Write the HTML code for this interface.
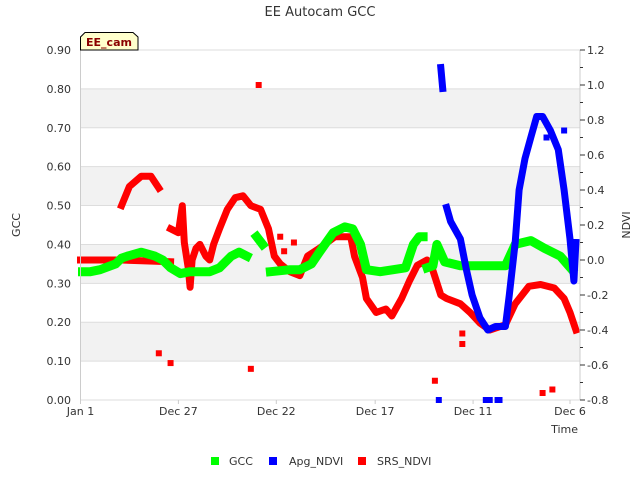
<!DOCTYPE html>
<html><head><meta charset="utf-8"><style>
body{margin:0;background:#fff;font-family:"Liberation Sans","DejaVu Sans",sans-serif;}
svg text{font-family:"DejaVu Sans","Liberation Sans",sans-serif;}
</style></head><body>
<svg id="chart" width="640" height="480" viewBox="0 0 640 480" xmlns="http://www.w3.org/2000/svg">
<text x="320" y="16" text-anchor="middle" font-size="13" fill="#333">EE Autocam GCC</text>
<g id="bands"></g><g id="grid"></g><g id="series"></g><g id="axes"></g>
<text x="20" y="225" font-size="11" fill="#333" text-anchor="middle" transform="rotate(-90 20 225)">GCC</text>
<text x="630" y="225" font-size="11" fill="#333" text-anchor="middle" transform="rotate(-90 630 225)">NDVI</text>
<text x="578" y="433" font-size="11" fill="#333" text-anchor="end">Time</text>
<g>
<path d="M80.5,50 L80.5,37 L85,32.5 L133,32.5 L138,37 L138,50 Z" fill="#ffffcc" stroke="#000" stroke-width="1"/>
<text x="109" y="46" text-anchor="middle" font-size="11" font-weight="bold" fill="#8b0000">EE_cam</text>
</g>
<g>
<g><rect x="211" y="457" width="8" height="8" fill="#00ff00"/><text x="229" y="465" font-size="11" fill="#333">GCC</text></g>
<g><rect x="269" y="457" width="8" height="8" fill="#0000ff"/><text x="289" y="465" font-size="11" fill="#333">Apg_NDVI</text></g>
<g><rect x="358" y="457" width="8" height="8" fill="#ff0000"/><text x="377" y="465" font-size="11" fill="#333">SRS_NDVI</text></g>
</g>
</svg>
<script>
const xTickLabels=["Jan 1","Dec 27","Dec 22","Dec 17","Dec 11","Dec 6"];
const xTickDays=[0,5,10,15.05,20.05,25];
const leftTicks=[0,0.1,0.2,0.3,0.4,0.5,0.6,0.7,0.8,0.9];
const rightTicks=[-0.8,-0.6,-0.4,-0.2,0,0.2,0.4,0.6,0.8,1.0,1.2];
const gccDays=[0.1,0.5,1.0,1.8,2.1,2.4,3.1,3.8,4.2,4.6,5.1,5.6,6.6,7.1,7.7,8.1,8.5,null,9.0,9.3,null,9.7,10.7,11.2,11.8,12.2,12.9,13.5,13.9,14.3,14.6,15.3,16.6,17.0,17.3,17.5,null,17.7,18.0,18.2,18.6,19.4,20.4,21.7,22.2,23.0,23.7,24.5,25.1];
const gccValues=[0.33,0.33,0.335,0.35,0.365,0.37,0.38,0.37,0.36,0.34,0.325,0.33,0.33,0.34,0.37,0.38,0.37,null,0.42,0.40,null,0.33,0.335,0.335,0.35,0.38,0.43,0.445,0.44,0.40,0.335,0.33,0.34,0.40,0.42,0.42,null,0.34,0.345,0.40,0.355,0.345,0.345,0.345,0.40,0.41,0.39,0.37,0.335];
const srsDays=[0,2.1,4.6,null,2.1,2.5,3.1,3.6,4.0,null,4.6,5.0,5.2,5.3,5.5,5.6,5.7,5.9,6.1,6.4,6.6,6.8,7.1,7.5,7.9,8.3,8.7,9.2,9.6,9.9,10.2,10.7,11.2,11.6,12.2,13.0,13.8,14.0,14.4,14.6,15.1,15.6,15.9,16.4,16.8,17.2,17.7,18.0,18.4,18.7,19.4,19.9,20.4,20.9,21.7,22.2,22.9,23.5,24.2,24.7,25.0,25.3];
const srsValues=[0,0,-0.01,null,0.311,0.42,0.478,0.478,0.411,null,0.178,0.156,0.31,0.1,-0.044,-0.156,0.0,0.067,0.089,0.022,0.0,0.089,0.178,0.289,0.356,0.367,0.311,0.289,0.178,0.022,-0.022,-0.067,-0.089,0.022,0.067,0.133,0.133,0.02,-0.1,-0.22,-0.3,-0.28,-0.32,-0.22,-0.12,-0.03,0.0,-0.06,-0.2,-0.22,-0.25,-0.3,-0.36,-0.4,-0.37,-0.25,-0.15,-0.14,-0.16,-0.22,-0.3,-0.4];
const srsOutDays=[4.0,4.6,9.1,8.7,18.1,19.5,19.5,23.6,24.1,10.2,10.4,10.9,11.0];
const srsOutValues=[-0.533,-0.589,1.0,-0.622,-0.69,-0.42,-0.48,-0.76,-0.74,0.133,0.05,0.1,-0.07];
const apgDays=[18.4,18.5,null,18.7,18.9,19.4,19.7,20.0,20.4,20.8,21.2,21.7,21.9,22.2,22.4,22.7,23.0,23.3,23.6,24.0,24.4,24.7,25.0,25.2,25.3];
const apgValues=[1.1,0.98,null,0.3,0.22,0.12,-0.05,-0.2,-0.33,-0.4,-0.38,-0.38,-0.2,0.1,0.4,0.58,0.7,0.82,0.82,0.74,0.63,0.4,0.12,-0.12,0.1];
const apgOutDays=[18.3,20.7,20.9,21.3,21.4,23.8,24.7];
const apgOutValues=[-0.8,-0.8,-0.8,-0.8,-0.8,0.7,0.74];

const NS="http://www.w3.org/2000/svg";
const X0=80.5,X1=580,Y0=400,Y1=50;
const x=d=>X0+d*(570-X0)/25;
const yL=v=>Y0-v*(Y0-Y1)/0.9;
const yR=v=>Y0-(v+0.8)*(Y0-Y1)/2.0;
function mk(tag,attrs,parent){const e=document.createElementNS(NS,tag);for(const k in attrs)e.setAttribute(k,attrs[k]);parent.appendChild(e);return e;}
const bands=document.getElementById('bands'),grid=document.getElementById('grid'),ser=document.getElementById('series'),axes=document.getElementById('axes');
mk('rect',{x:X0,y:Y1,width:X1-X0,height:Y0-Y1,fill:'#fff'},bands);
for(let i=1;i<9;i+=2){const r=mk('rect',{x:X0,y:yL((i+1)/10),width:X1-X0,height:yL(i/10)-yL((i+1)/10),fill:'#f2f2f2'},bands);

}
leftTicks.forEach(v=>{mk('line',{x1:X0,x2:X1,y1:yL(v),y2:yL(v),stroke:'#ddd','stroke-width':1},grid);
const t=mk('text',{x:71,y:yL(v)+4,'text-anchor':'end','font-size':11,fill:'#333'},axes);t.textContent=v.toFixed(2);

});
mk('line',{x1:X0,x2:X0,y1:Y1,y2:Y0,stroke:'#ccc'},axes);
mk('line',{x1:X1,x2:X1,y1:Y1,y2:Y0,stroke:'#ccc'},axes);
rightTicks.forEach((v,i)=>{mk('line',{x1:X1,x2:X1+5,y1:yR(v),y2:yR(v),stroke:'#333'},axes);
if(i<rightTicks.length-1)mk('line',{x1:X1,x2:X1+3,y1:yR(v+0.1),y2:yR(v+0.1),stroke:'#333'},axes);
const t=mk('text',{x:587,y:yR(v)+4,'font-size':11,fill:'#333'},axes);t.textContent=(Math.abs(v)<1e-9?0:v).toFixed(1);

});
xTickLabels.forEach((l,i)=>{const px=x(xTickDays[i]);mk('line',{x1:px,x2:px,y1:Y0,y2:Y0+4,stroke:'#ccc'},axes);
const t=mk('text',{x:px,y:415,'text-anchor':'middle','font-size':11,fill:'#333'},axes);t.textContent=l;

});
function path(days,vals,yf,color,w,name){let d='',pen=false;for(let i=0;i<days.length;i++){if(days[i]==null){pen=false;continue;}d+=(pen?'L':'M')+x(days[i]).toFixed(1)+','+yf(vals[i]).toFixed(1);pen=true;}
const p=mk('path',{d:d,fill:'none',stroke:color,'stroke-width':w,'stroke-linejoin':'round','stroke-linecap':'square'},ser);

}
function pts(days,vals,yf,color,name){days.forEach((dd,i)=>{const r=mk('rect',{x:x(dd)-3,y:yf(vals[i])-3,width:6,height:6,fill:color},ser);

});}
path(srsDays,srsValues,yR,'#ff0000',7,'srs-ndvi-series');
pts(srsOutDays,srsOutValues,yR,'#ff0000','srs-ndvi-outlier');
path(gccDays,gccValues,yL,'#00ff00',9,'gcc-series');
path(apgDays,apgValues,yR,'#0000ff',7,'apg-ndvi-series');
pts(apgOutDays,apgOutValues,yR,'#0000ff','apg-ndvi-outlier');
</script>
</body></html>
